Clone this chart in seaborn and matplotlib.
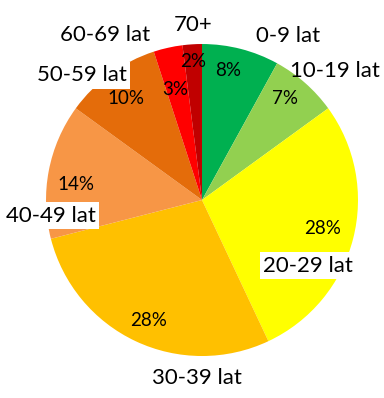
import matplotlib
matplotlib.use('Agg')
import matplotlib.pyplot as plt
import seaborn as sns

# age groups and their share (%)
groups = ['0-9 lat', '10-19 lat', '20-29 lat', '30-39 lat',
          '40-49 lat', '50-59 lat', '60-69 lat', '70+']
shares = [8, 7, 28, 28, 14, 10, 3, 2]
colors = ['#00B050', '#92D050', '#FFFF00', '#FFC000',
          '#F79646', '#E46C0A', '#FF0000', '#C00000']

# where each group label / percent label sits (pie radius = 1)
name_pos = [(0.55, 1.05), (0.85, 0.83), (0.68, -0.42), (-0.03, -1.14),
            (-0.97, -0.10), (-0.77, 0.80), (-0.62, 1.06), (-0.06, 1.12)]
pct_pos = [(0.17, 0.83), (0.53, 0.65), (0.77, -0.18), (-0.34, -0.77),
           (-0.81, 0.10), (-0.49, 0.65), (-0.17, 0.71), (-0.06, 0.89)]
boxed = [False, False, True, False, True, True, False, False]

sns.set_style('white')
plt.rcParams['font.family'] = ['Lato', 'DejaVu Sans']

fig = plt.figure(figsize=(3.84, 3.98), dpi=100)
ax = fig.add_axes([0.1198, 0.1055, 0.8125, 0.7839])

wedges, _ = ax.pie(shares, colors=colors, startangle=90, counterclock=False,
                   radius=1.0, wedgeprops=dict(linewidth=0))

for i, g in enumerate(groups):
    px, py = pct_pos[i]
    ax.text(px, py, f'{shares[i]}%', ha='center', va='center', fontsize=13.5,
            color='black')
for i, g in enumerate(groups):
    nx, ny = name_pos[i]
    bbox = dict(facecolor='white', edgecolor='none', pad=2.5) if boxed[i] else None
    ax.text(nx, ny, g, ha='center', va='center', fontsize=16, color='black',
            bbox=bbox, zorder=5)

ax.set_xlim(-1, 1)
ax.set_ylim(-1, 1)
ax.set_aspect('equal')
ax.axis('off')

plt.savefig('out.png', dpi=100)
